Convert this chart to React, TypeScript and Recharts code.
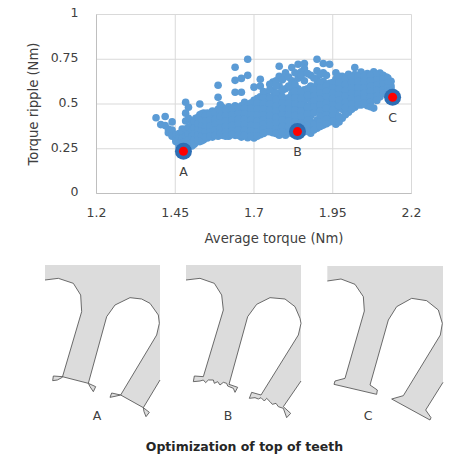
import React from 'react';
import { ScatterChart, Scatter, XAxis, YAxis, CartesianGrid, LabelList } from 'recharts';

const xTicks = [1.2, 1.45, 1.7, 1.95, 2.2];
const yTicks = [0, 0.25, 0.5, 0.75, 1];

// average torque of each column of the cloud
const torqueColumns = [
  1.389, 1.404, 1.418, 1.428, 1.44, 1.452, 1.462, 1.472, 1.483, 1.492, 1.503, 1.515, 1.528, 1.54, 1.552, 1.568, 1.586,
  1.6, 1.62, 1.64, 1.66, 1.68, 1.7, 1.72, 1.74, 1.76, 1.78, 1.8, 1.82, 1.84, 1.86, 1.88, 1.9, 1.92, 1.94, 1.96, 1.98,
  2.0, 2.02, 2.04, 2.06, 2.08, 2.1, 2.12, 2.135,
];
// torque ripple of the points in each column
const rippleColumns = [
  [0.423],
  [0.385],
  [0.43, 0.38],
  [0.36, 0.34],
  [0.4, 0.355, 0.32],
  [0.33, 0.3, 0.29],
  [0.335, 0.31, 0.28, 0.265],
  [0.36, 0.34, 0.31, 0.28],
  [0.51, 0.449, 0.405, 0.36, 0.32, 0.29, 0.265],
  [0.482, 0.42, 0.37, 0.33, 0.3, 0.27],
  [0.39, 0.35, 0.32, 0.285, 0.265],
  [0.42, 0.38, 0.34, 0.31, 0.285],
  [0.5, 0.44, 0.41, 0.375, 0.345, 0.31, 0.29],
  [0.45, 0.425, 0.395, 0.36, 0.33, 0.3],
  [0.45, 0.42, 0.39, 0.36, 0.33, 0.31],
  [0.46, 0.43, 0.4, 0.37, 0.34, 0.315],
  [0.605, 0.538, 0.47, 0.44, 0.41, 0.38, 0.35, 0.32],
  [0.48, 0.45, 0.42, 0.39, 0.36, 0.325],
  [0.485, 0.455, 0.425, 0.395, 0.365, 0.335, 0.32],
  [0.705, 0.632, 0.566, 0.49, 0.455, 0.425, 0.39, 0.36, 0.325],
  [0.643, 0.566, 0.49, 0.46, 0.43, 0.4, 0.37, 0.34, 0.315],
  [0.75, 0.66, 0.49, 0.46, 0.43, 0.4, 0.37, 0.34, 0.312],
  [0.594, 0.52, 0.49, 0.455, 0.425, 0.395, 0.365, 0.335, 0.31],
  [0.638, 0.6, 0.54, 0.505, 0.475, 0.44, 0.41, 0.38, 0.35, 0.328],
  [0.555, 0.52, 0.49, 0.455, 0.425, 0.395, 0.37, 0.345],
  [0.622, 0.575, 0.54, 0.51, 0.475, 0.445, 0.41, 0.375, 0.34],
  [0.711, 0.655, 0.6, 0.56, 0.525, 0.49, 0.46, 0.425, 0.39, 0.36, 0.326],
  [0.674, 0.655, 0.585, 0.52, 0.49, 0.455, 0.425, 0.39, 0.36, 0.326],
  [0.704, 0.63, 0.59, 0.555, 0.52, 0.485, 0.45, 0.42, 0.385, 0.35, 0.335],
  [0.722, 0.644, 0.585, 0.55, 0.515, 0.48, 0.445, 0.41, 0.38, 0.35],
  [0.726, 0.698, 0.63, 0.58, 0.55, 0.52, 0.49, 0.455, 0.425, 0.39, 0.345],
  [0.661, 0.6, 0.565, 0.53, 0.5, 0.465, 0.435, 0.4, 0.37, 0.337],
  [0.75, 0.685, 0.64, 0.61, 0.575, 0.545, 0.51, 0.48, 0.41, 0.365],
  [0.726, 0.674, 0.625, 0.6, 0.565, 0.535, 0.5, 0.47, 0.44, 0.41, 0.382],
  [0.722, 0.615, 0.585, 0.555, 0.52, 0.49, 0.455, 0.425, 0.4],
  [0.674, 0.64, 0.605, 0.575, 0.54, 0.51, 0.475, 0.445, 0.415, 0.387],
  [0.655, 0.625, 0.595, 0.56, 0.53, 0.5, 0.47, 0.42],
  [0.666, 0.64, 0.61, 0.58, 0.55, 0.515, 0.485, 0.454],
  [0.704, 0.665, 0.635, 0.6, 0.57, 0.54, 0.51, 0.482],
  [0.678, 0.645, 0.615, 0.585, 0.555, 0.525, 0.495],
  [0.67, 0.64, 0.605, 0.575, 0.545, 0.515, 0.49],
  [0.68, 0.65, 0.62, 0.59, 0.56, 0.53, 0.477],
  [0.673, 0.655, 0.625, 0.595, 0.565, 0.54],
  [0.65, 0.63, 0.6, 0.575, 0.555],
  [0.627, 0.6, 0.585],
];

// second pass over the dense body of the cloud, between the columns above
const torqueBetween = [
  1.51, 1.522, 1.534, 1.546, 1.56, 1.577, 1.593, 1.61, 1.63, 1.65, 1.67, 1.69, 1.71, 1.73, 1.75, 1.77, 1.79, 1.81, 1.83,
  1.85, 1.87, 1.89, 1.91, 1.93, 1.95, 1.97, 1.99, 2.01, 2.03, 2.05, 2.07, 2.09, 2.11, 2.125,
];
const rippleBetween = [
  [0.405, 0.365, 0.33, 0.3, 0.275],
  [0.425, 0.39, 0.355, 0.325, 0.3],
  [0.445, 0.41, 0.38, 0.35, 0.32, 0.295],
  [0.435, 0.405, 0.37, 0.345, 0.315],
  [0.44, 0.41, 0.375, 0.345, 0.32],
  [0.45, 0.415, 0.385, 0.355, 0.325],
  [0.495, 0.46, 0.43, 0.395, 0.365, 0.335],
  [0.47, 0.435, 0.405, 0.375, 0.345, 0.32],
  [0.475, 0.44, 0.41, 0.38, 0.35, 0.33],
  [0.475, 0.445, 0.415, 0.385, 0.355, 0.325],
  [0.51, 0.475, 0.445, 0.415, 0.385, 0.355, 0.325],
  [0.505, 0.475, 0.44, 0.41, 0.38, 0.35, 0.32],
  [0.53, 0.505, 0.47, 0.435, 0.405, 0.375, 0.345, 0.32],
  [0.57, 0.535, 0.5, 0.47, 0.44, 0.41, 0.385, 0.36, 0.335],
  [0.61, 0.58, 0.53, 0.5, 0.465, 0.435, 0.4, 0.38, 0.345],
  [0.63, 0.6, 0.56, 0.525, 0.49, 0.46, 0.425, 0.395, 0.36, 0.335],
  [0.635, 0.575, 0.54, 0.505, 0.475, 0.44, 0.41, 0.375, 0.345],
  [0.65, 0.6, 0.535, 0.505, 0.47, 0.44, 0.405, 0.375, 0.34],
  [0.675, 0.61, 0.57, 0.535, 0.5, 0.465, 0.435, 0.4, 0.37, 0.34],
  [0.68, 0.66, 0.57, 0.53, 0.495, 0.46, 0.43, 0.395, 0.365, 0.34],
  [0.67, 0.585, 0.55, 0.48, 0.445, 0.41, 0.38, 0.35],
  [0.645, 0.58, 0.545, 0.515, 0.485, 0.45, 0.385, 0.355],
  [0.665, 0.62, 0.59, 0.56, 0.525, 0.495, 0.46, 0.43, 0.4, 0.375],
  [0.66, 0.6, 0.57, 0.54, 0.505, 0.475, 0.44, 0.415, 0.39],
  [0.62, 0.59, 0.56, 0.53, 0.495, 0.465, 0.435, 0.405],
  [0.655, 0.62, 0.585, 0.55, 0.52, 0.49, 0.43, 0.4],
  [0.64, 0.61, 0.575, 0.545, 0.51, 0.48, 0.44],
  [0.65, 0.62, 0.59, 0.56, 0.53, 0.5, 0.47],
  [0.655, 0.625, 0.59, 0.555, 0.525, 0.495],
  [0.655, 0.625, 0.59, 0.56, 0.53, 0.505],
  [0.66, 0.63, 0.6, 0.57, 0.54, 0.51, 0.485],
  [0.665, 0.635, 0.605, 0.575, 0.545, 0.52],
  [0.66, 0.64, 0.61, 0.58, 0.56],
  [0.645, 0.615, 0.59, 0.57],
];

// the three marked designs
const pickedNames = ['A', 'B', 'C'];
const pickedTorque = [1.476, 1.838, 2.14];
const pickedRipple = [0.236, 0.346, 0.538];

const cloud = [
  ...torqueColumns.flatMap((t, i) => rippleColumns[i].map((r) => ({ t, r }))),
  ...torqueBetween.flatMap((t, i) => rippleBetween[i].map((r) => ({ t, r }))),
];
const picked = pickedNames.map((name, i) => ({ name, t: pickedTorque[i], r: pickedRipple[i] }));

// tooth outlines, in units of a third of a pixel
const toothA = '45,30 390,30 390,375 340,458 358,472 348,485 342,470 340,458 272,420 245,414 240,427 255,424 272,420 380,240 388,205 385,180 360,145 335,132 300,128 255,150 230,185 175,385 197,395 190,410 180,395 175,385 97,365 70,363 68,377 82,375 97,367 155,170 152,120 130,85 85,70 45,75';
const toothB = '33,30 378,30 378,378 325,455 347,475 335,488 325,460 310,455 303,445 292,448 285,440 275,430 268,438 258,428 250,432 240,428 223,430 230,412 258,420 370,240 378,205 375,190 360,155 330,132 285,128 245,148 218,185 162,388 188,397 180,412 175,400 158,393 155,385 145,382 135,390 128,380 118,385 115,375 100,375 92,383 85,375 75,378 55,380 58,363 85,365 145,165 140,120 118,85 75,70 33,75';
const toothC = '37,33 384,33 384,382 332,465 348,488 345,495 230,432 265,422 376,240 382,205 370,165 335,137 290,130 245,155 220,195 165,390 187,405 185,418 57,388 60,378 90,370 148,168 145,125 120,88 78,72 37,78';
const teeth = [
  { name: 'A', points: toothA, x: 30, y: 255, labelX: 97 },
  { name: 'B', points: toothB, x: 175, y: 255, labelX: 228 },
  { name: 'C', points: toothC, x: 315, y: 255, labelX: 368 },
];

const FONT = '"DejaVu Sans", Verdana, sans-serif';
const TEXT = '#404040';

const dot = (r: number, fill: string) => (p: any) => <circle cx={p.cx} cy={p.cy} r={r} fill={fill} />;

// only the slot edges are stroked, not the cut-off sides of the picture
function strokeOnly(points: string) {
  return points.split(' ').slice(2).join(' ');
}

export default function App() {
  return (
    <div style={{ position: 'absolute', left: 0, top: 0, width: 470, height: 470, background: '#fff', fontFamily: FONT }}>
      <ScatterChart width={470} height={250} margin={{ top: 14.5, right: 58.5, bottom: 26.5, left: 36.5 }} style={{ position: 'absolute', left: 0, top: 0 }}>
        <CartesianGrid stroke="#d9d9d9" horizontalValues={yTicks} verticalValues={xTicks} />
        <XAxis
          type="number"
          dataKey="t"
          domain={[1.2, 2.2]}
          ticks={xTicks}
          height={30}
          stroke="#bfbfbf"
          tickLine={false}
          tickMargin={9}
          tick={{ fill: TEXT, fontSize: 12.5, fontFamily: FONT }}
          label={{ value: 'Average torque (Nm)', position: 'insideBottom', dx: 20, dy: 24, fill: TEXT, fontSize: 13.2, fontFamily: FONT }}
        />
        <YAxis
          type="number"
          dataKey="r"
          domain={[0, 1]}
          ticks={yTicks}
          width={60}
          stroke="#bfbfbf"
          tickLine={false}
          tickMargin={12}
          tick={{ fill: TEXT, fontSize: 12.5, fontFamily: FONT, dy: -1.5 }}
          label={{ value: 'Torque ripple (Nm)', angle: -90, position: 'center', dx: -33, fill: TEXT, fontSize: 13.2, fontFamily: FONT }}
        />
        <Scatter data={cloud} isAnimationActive={false} shape={dot(3.8, '#5b9bd5')} />
        <Scatter data={picked} isAnimationActive={false} shape={dot(8.5, '#2e6fb5')}>
          <LabelList dataKey="name" position="bottom" offset={11} fill={TEXT} fontSize={12.5} fontFamily={FONT} />
        </Scatter>
        <Scatter data={picked} isAnimationActive={false} shape={dot(4.5, '#ff0000')} />
      </ScatterChart>
      <svg width={470} height={220} viewBox="0 250 470 220" style={{ position: 'absolute', left: 0, top: 250 }}>
        {teeth.map((tooth) => (
          <g key={tooth.name}>
            <g transform={`translate(${tooth.x} ${tooth.y}) scale(${1 / 3})`}>
              <polygon points={tooth.points} fill="#dcdcdc" />
              <polyline points={strokeOnly(tooth.points)} fill="none" stroke="#555" strokeWidth={2.6} />
            </g>
            <text x={tooth.labelX} y={420} textAnchor="middle" fontSize={12.5} fill={TEXT} fontFamily={FONT}>{tooth.name}</text>
          </g>
        ))}
        <text x={244.5} y={451} textAnchor="middle" fontSize={12.5} fontWeight="bold" fill="#262626" fontFamily={FONT}>Optimization of top of teeth</text>
      </svg>
    </div>
  );
}
